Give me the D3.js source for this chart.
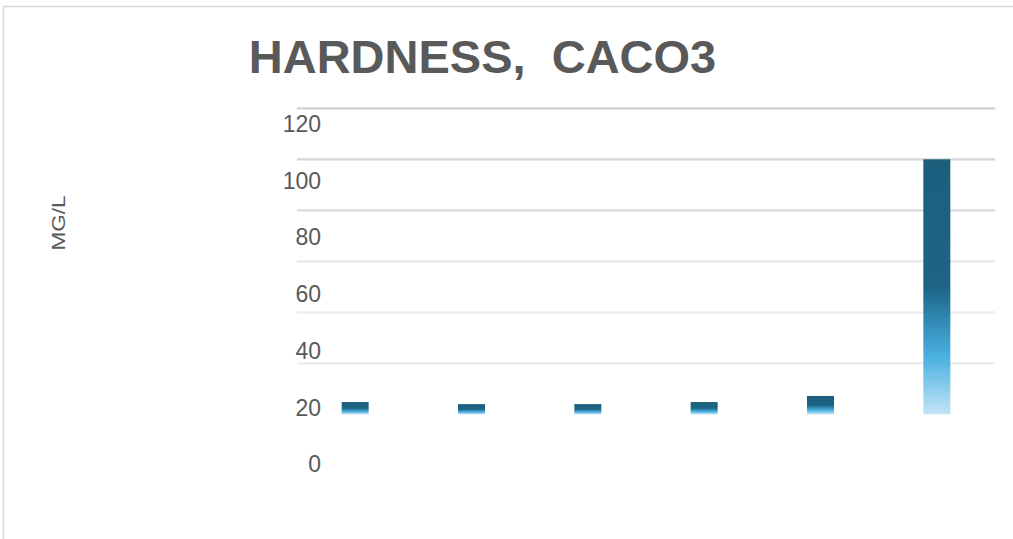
<!DOCTYPE html>
<html>
<head>
<meta charset="utf-8">
<script src="https://cdn.jsdelivr.net/npm/d3@7"></script>
<style>
  html, body { margin: 0; padding: 0; background: #fff; }
  svg { display: block; font-family: "Liberation Sans", Arial, sans-serif; }
  .title { white-space: pre; }
</style>
</head>
<body>
<svg id="chart" width="1013" height="539"></svg>
<script>
// Hardness (as CaCO3), mg/L, one bar per sample
const categories = ["S1", "S2", "S3", "S4", "S5", "S6"];
const hardness = [4.8, 4.0, 4.0, 4.8, 7.2, 100];
const tickValues = [0, 20, 40, 60, 80, 100, 120];
const titleText = "HARDNESS,  CACO3";
const axisTitle = "MG/L";

const svg = d3.select("#chart");
const textColor = "#595959";

// chart frame
svg.append("path")
  .attr("d", "M3.5,539 L3.5,6.5 L1013,6.5")
  .attr("fill", "none")
  .attr("stroke", "#d9d9d9")
  .attr("stroke-width", 1.5);

const plot = { left: 297, right: 995, top: 108.3, bottom: 414.3 };

const x = d3.scaleBand()
  .domain(categories)
  .range([plot.left, plot.right])
  .paddingInner(0.768)
  .paddingOuter(0.384);

const y = d3.scaleLinear().domain([0, 120]).range([plot.bottom, plot.top]);
// the value labels sit on their own, slightly taller scale
const yLabel = d3.scaleLinear().domain([0, 120]).range([464.5, 124]);

// gridlines
const gridColors = { 20: "#ededed", 40: "#ececec", 60: "#e8e8e8", 80: "#dcdcdc", 100: "#d6d6d6", 120: "#d0d0d0" };
svg.append("g")
  .selectAll("line")
  .data(tickValues.filter(v => v > 0))
  .join("line")
  .attr("x1", plot.left).attr("x2", plot.right)
  .attr("y1", d => y(d)).attr("y2", d => y(d))
  .attr("stroke", d => gridColors[d])
  .attr("stroke-width", 2.2);

// tick labels
const axis = d3.axisLeft(yLabel).tickValues(tickValues).tickSize(0).tickPadding(0);
const gAxis = svg.append("g").attr("transform", "translate(321,0)").call(axis);
gAxis.select(".domain").remove();
gAxis.selectAll("text")
  .attr("fill", textColor)
  .attr("font-size", 23)
  .attr("font-family", "Liberation Sans, Arial, sans-serif");

// bar gradient
const defs = svg.append("defs");
const grad = defs.append("linearGradient")
  .attr("id", "barGrad")
  .attr("x1", 0).attr("y1", 0).attr("x2", 0).attr("y2", 1);
[
  [0, "#1b5f7d"], [0.5, "#1d6484"], [0.62, "#2f86b0"],
  [0.78, "#4cb2e2"], [1, "#c3e4f5"]
].forEach(([o, c]) => grad.append("stop").attr("offset", o).attr("stop-color", c));

svg.append("g")
  .selectAll("rect")
  .data(hardness)
  .join("rect")
  .attr("x", (d, i) => x(categories[i]))
  .attr("width", x.bandwidth())
  .attr("y", d => y(d))
  .attr("height", d => y(0) - y(d))
  .attr("fill", "url(#barGrad)");

// title
svg.append("text")
  .attr("class", "title")
  .attr("x", 482.5).attr("y", 73)
  .attr("text-anchor", "middle")
  .attr("font-size", 47)
  .attr("font-weight", "bold")
  .attr("fill", textColor)
  .text(titleText);

// axis title
svg.append("text")
  .attr("transform", "translate(65,223) rotate(-90)")
  .attr("text-anchor", "middle")
  .attr("font-size", 19)
  .attr("textLength", 55)
  .attr("lengthAdjust", "spacingAndGlyphs")
  .attr("fill", textColor)
  .text(axisTitle);
</script>
</body>
</html>
